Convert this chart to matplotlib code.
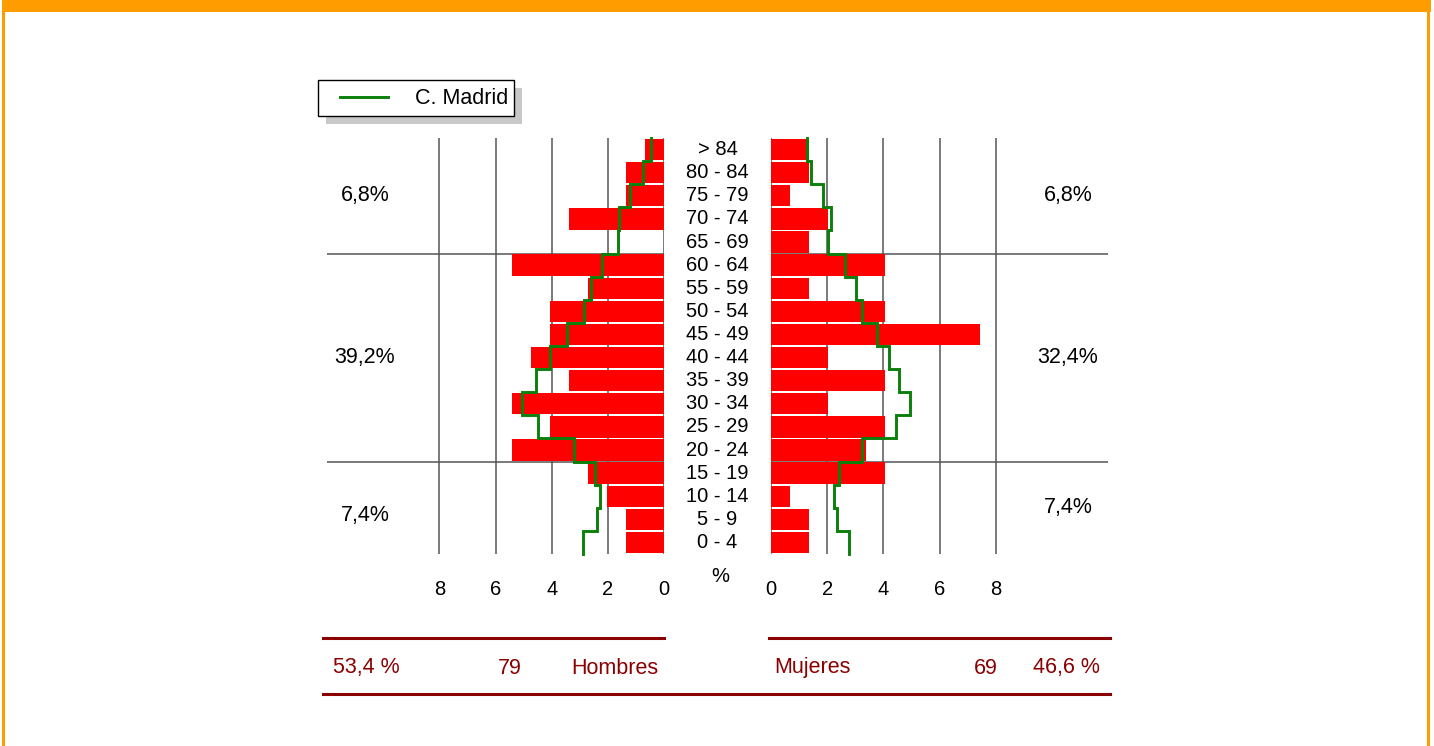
import numpy as np
import matplotlib
matplotlib.use("Agg")
import matplotlib.pyplot as plt
from matplotlib.patches import Rectangle
from matplotlib.lines import Line2D

plt.rcParams['font.family'] = ['Liberation Sans', 'DejaVu Sans']

# ---- data (bottom to top) ----
age_groups = ["0 - 4", "5 - 9", "10 - 14", "15 - 19", "20 - 24", "25 - 29", "30 - 34",
              "35 - 39", "40 - 44", "45 - 49", "50 - 54", "55 - 59", "60 - 64",
              "65 - 69", "70 - 74", "75 - 79", "80 - 84", "> 84"]
men_counts = [2, 2, 3, 4, 8, 6, 8, 5, 7, 6, 6, 4, 8, 0, 5, 2, 2, 1]
women_counts = [2, 2, 1, 6, 5, 6, 3, 6, 3, 11, 6, 2, 6, 2, 3, 1, 2, 2]
madrid_men = [2.88, 2.40, 2.28, 2.46, 3.20, 4.48, 5.05, 4.55, 4.06, 3.45, 2.85, 2.60, 2.20,
              1.64, 1.60, 1.21, 0.75, 0.46]
madrid_women = [2.78, 2.35, 2.24, 2.42, 3.24, 4.45, 4.95, 4.56, 4.20, 3.77, 3.24, 3.02, 2.63,
                2.03, 2.14, 1.85, 1.42, 1.28]
ticks = [0, 2, 4, 6, 8]
men_total_label = "79"
women_total_label = "69"
men_share = "53,4 %"
women_share = "46,6 %"
left_group_labels = ["7,4%", "39,2%", "6,8%"]
right_group_labels = ["7,4%", "32,4%", "6,8%"]
legend_label = "C. Madrid"

total = sum(men_counts) + sum(women_counts)
men_pct = np.array(men_counts) / total * 100
women_pct = np.array(women_counts) / total * 100

W, H = 1434, 746
fig = plt.figure(figsize=(W / 100, H / 100), dpi=100)


def fx(x):
    return x / W


def fy(y):
    return 1 - y / H


def add_px_axes(x0, y0, x1, y1):
    return fig.add_axes([fx(x0), fy(y1), fx(x1) - fx(x0), fy(y0) - fy(y1)])


RED = '#ff0000'
GREEN = '#0a800a'
DARKRED = '#8b0000'
FS_AGE = 14.5
FS_TICK = 14.5
FS_SIDE = 15.5
FS_BOT = 15.5
n = len(age_groups)
ypos = np.arange(n)

# step line coordinates from data
step_y = np.ravel([[i - 0.5, i + 0.5] for i in ypos])

axL = add_px_axes(327, 138, 664, 554)
axR = add_px_axes(771, 138, 1108, 554)
for ax, vals, mad, inv in [(axL, men_pct, madrid_men, True), (axR, women_pct, madrid_women, False)]:
    ax.set_ylim(-0.5, n - 0.5)
    if inv:
        ax.set_xlim(12, 0)
    else:
        ax.set_xlim(0, 12)
    for s in ax.spines.values():
        s.set_visible(False)
    ax.vlines(ticks, -0.5, n - 0.5, colors='#707070', linewidth=1.3, zorder=1)
    ax.axhline(12.5, color='#555555', linewidth=1.1, zorder=1)
    ax.axhline(3.5, color='#555555', linewidth=1.1, zorder=1)
    ax.barh(ypos, vals, height=0.92, color=RED, zorder=2)
    ax.plot(np.repeat(mad, 2), step_y, color=GREEN, linewidth=2.1, zorder=3,
            clip_on=False, solid_joinstyle='miter')
    ax.set_yticks([])
    ax.set_xticks(ticks)
    ax.set_xticklabels([str(t) for t in ticks], fontsize=FS_TICK)
    ax.tick_params(axis='x', length=0, pad=19)
    ax.patch.set_alpha(0)

# middle labels
axM = add_px_axes(664, 138, 771, 554)
axM.set_ylim(-0.5, n - 0.5)
axM.set_xlim(0, 1)
axM.axis('off')
for i, lab in enumerate(age_groups):
    axM.text(0.5, i, lab, ha='center', va='center', fontsize=FS_AGE)

# overlay axes in pixel coordinates for decoration
ov2 = fig.add_axes([0, 0, 1, 1], zorder=5)
ov2.set_xlim(0, W)
ov2.set_ylim(H, 0)
ov2.axis('off')
ov2.patch.set_alpha(0)

ORANGE = '#ff9c00'
ov2.add_patch(Rectangle((2, 0), 1429, 11.5, color=ORANGE, lw=0))
ov2.add_patch(Rectangle((2, 0), 3, 746, color=ORANGE, lw=0))
ov2.add_patch(Rectangle((1427, 0), 3, 746, color=ORANGE, lw=0))

ov2.text(720, 577, "%", ha='center', va='center', fontsize=FS_TICK)

# group percentages
left_ys = [516, 357, 195]
right_ys = [508, 357, 195]
for lab, yy in zip(left_group_labels, left_ys):
    ov2.text(365, yy, lab, ha='center', va='center', fontsize=FS_SIDE)
for lab, yy in zip(right_group_labels, right_ys):
    ov2.text(1068, yy, lab, ha='center', va='center', fontsize=FS_SIDE)

# legend (manual, with shadow)
ov2.add_patch(Rectangle((326, 88), 196, 36, color='#c8c8c8', lw=0))
ov2.add_patch(Rectangle((318, 80), 196, 36, facecolor='white', edgecolor='black', lw=1))
ov2.add_line(Line2D([340, 388], [97, 97], color=GREEN, lw=2.1))
ov2.text(508, 98, legend_label, ha='right', va='center', fontsize=FS_BOT)

# bottom summary
ov2.add_line(Line2D([323, 664], [638, 638], color=DARKRED, lw=2.2))
ov2.add_line(Line2D([769, 1110], [638, 638], color=DARKRED, lw=2.2))
ov2.add_line(Line2D([323, 1110], [694, 694], color=DARKRED, lw=2.2))
ov2.text(333, 668, men_share, ha='left', va='center', fontsize=FS_BOT, color=DARKRED)
ov2.text(510, 668, men_total_label, ha='center', va='center', fontsize=FS_BOT, color=DARKRED)
ov2.text(658, 668, "Hombres", ha='right', va='center', fontsize=FS_BOT, color=DARKRED)
ov2.text(774, 668, "Mujeres", ha='left', va='center', fontsize=FS_BOT, color=DARKRED)
ov2.text(986, 668, women_total_label, ha='center', va='center', fontsize=FS_BOT, color=DARKRED)
ov2.text(1100, 668, women_share, ha='right', va='center', fontsize=FS_BOT, color=DARKRED)

fig.savefig("out.png", dpi=100)
